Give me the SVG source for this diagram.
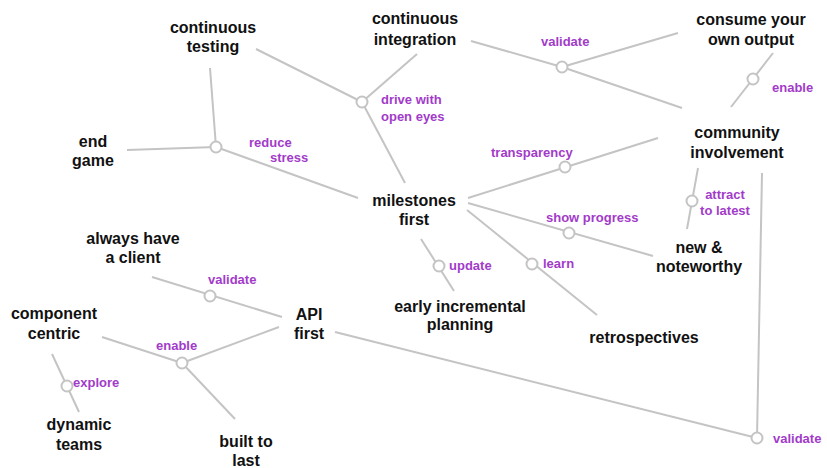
<svg xmlns="http://www.w3.org/2000/svg" width="827" height="468" viewBox="0 0 827 468">
<style>
.n{font-family:"Liberation Sans",Arial,sans-serif;font-weight:bold;font-size:16px;fill:#111;text-anchor:middle}
.l{font-family:"Liberation Sans",Arial,sans-serif;font-weight:bold;font-size:13px;fill:#a23bc9}
.c line{stroke:#c4c4c4;stroke-width:2;fill:none}
.c circle{fill:#fff;stroke:#c4c4c4;stroke-width:2}
</style>
<rect width="827" height="468" fill="#fff"/>
<g id="connectors" class="c">
<line x1="256" y1="49" x2="362" y2="102"/>
<line x1="417" y1="54" x2="362" y2="102"/>
<line x1="362" y1="102" x2="405" y2="183"/>
<line x1="210" y1="68" x2="216" y2="147"/>
<line x1="127" y1="150" x2="216" y2="147"/>
<line x1="216" y1="147" x2="358" y2="198"/>
<line x1="471" y1="41" x2="562" y2="67"/>
<line x1="562" y1="67" x2="678" y2="33"/>
<line x1="562" y1="67" x2="682" y2="108"/>
<line x1="773" y1="53" x2="731" y2="107"/>
<line x1="468" y1="198" x2="658" y2="138"/>
<line x1="698" y1="168" x2="687" y2="229"/>
<line x1="468" y1="203" x2="653" y2="256"/>
<line x1="467" y1="210" x2="597" y2="315"/>
<line x1="421" y1="239" x2="454" y2="291"/>
<line x1="762" y1="173" x2="757" y2="438"/>
<line x1="335" y1="332" x2="757" y2="438"/>
<line x1="152" y1="277" x2="282" y2="317"/>
<line x1="102" y1="337" x2="182" y2="363"/>
<line x1="279" y1="327" x2="182" y2="363"/>
<line x1="182" y1="363" x2="235" y2="419"/>
<line x1="52" y1="354" x2="79" y2="412"/>
<circle cx="362" cy="102" r="5.5"/>
<circle cx="216" cy="147" r="5.5"/>
<circle cx="562" cy="67" r="5.5"/>
<circle cx="753" cy="79" r="5.5"/>
<circle cx="565" cy="167" r="5.5"/>
<circle cx="692" cy="201" r="5.5"/>
<circle cx="569" cy="233" r="5.5"/>
<circle cx="439" cy="266" r="5.5"/>
<circle cx="532" cy="264" r="5.5"/>
<circle cx="210" cy="296" r="5.5"/>
<circle cx="182" cy="363" r="5.5"/>
<circle cx="67" cy="386" r="5.5"/>
<circle cx="757" cy="438" r="5.5"/>
<text class="l" x="381" y="104">drive with</text>
<text class="l" x="381" y="121">open eyes</text>
<text class="l" x="249" y="147">reduce</text>
<text class="l" x="270" y="162">stress</text>
<text class="l" x="541" y="46">validate</text>
<text class="l" x="772" y="92">enable</text>
<text class="l" x="491" y="157">transparency</text>
<text class="l" x="725" y="199" text-anchor="middle">attract</text>
<text class="l" x="725" y="215" text-anchor="middle">to latest</text>
<text class="l" x="546" y="222">show progress</text>
<text class="l" x="449" y="270">update</text>
<text class="l" x="543" y="268">learn</text>
<text class="l" x="208" y="284">validate</text>
<text class="l" x="156" y="350">enable</text>
<text class="l" x="73" y="387">explore</text>
<text class="l" x="773" y="443">validate</text>
</g>
<g id="continuous-testing"><text class="n" x="213" y="33">continuous</text><text class="n" x="213" y="52">testing</text></g>
<g id="continuous-integration"><text class="n" x="415" y="24">continuous</text><text class="n" x="415" y="45">integration</text></g>
<g id="consume-your-own-output"><text class="n" x="751" y="25">consume your</text><text class="n" x="751" y="45">own output</text></g>
<g id="community-involvement"><text class="n" x="737" y="138">community</text><text class="n" x="737" y="158">involvement</text></g>
<g id="end-game"><text class="n" x="93" y="147">end</text><text class="n" x="93" y="166">game</text></g>
<g id="milestones-first"><text class="n" x="414" y="206">milestones</text><text class="n" x="414" y="225">first</text></g>
<g id="new-noteworthy"><text class="n" x="699" y="253">new &amp;</text><text class="n" x="699" y="272">noteworthy</text></g>
<g id="early-incremental-planning"><text class="n" x="460" y="312">early incremental</text><text class="n" x="460" y="330">planning</text></g>
<g id="retrospectives"><text class="n" x="644" y="343">retrospectives</text></g>
<g id="always-have-a-client"><text class="n" x="133" y="244">always have</text><text class="n" x="133" y="263">a client</text></g>
<g id="component-centric"><text class="n" x="54" y="319">component</text><text class="n" x="54" y="339">centric</text></g>
<g id="api-first"><text class="n" x="309" y="320">API</text><text class="n" x="309" y="339">first</text></g>
<g id="dynamic-teams"><text class="n" x="79" y="430">dynamic</text><text class="n" x="79" y="450">teams</text></g>
<g id="built-to-last"><text class="n" x="246" y="447">built to</text><text class="n" x="246" y="466">last</text></g>
</svg>
